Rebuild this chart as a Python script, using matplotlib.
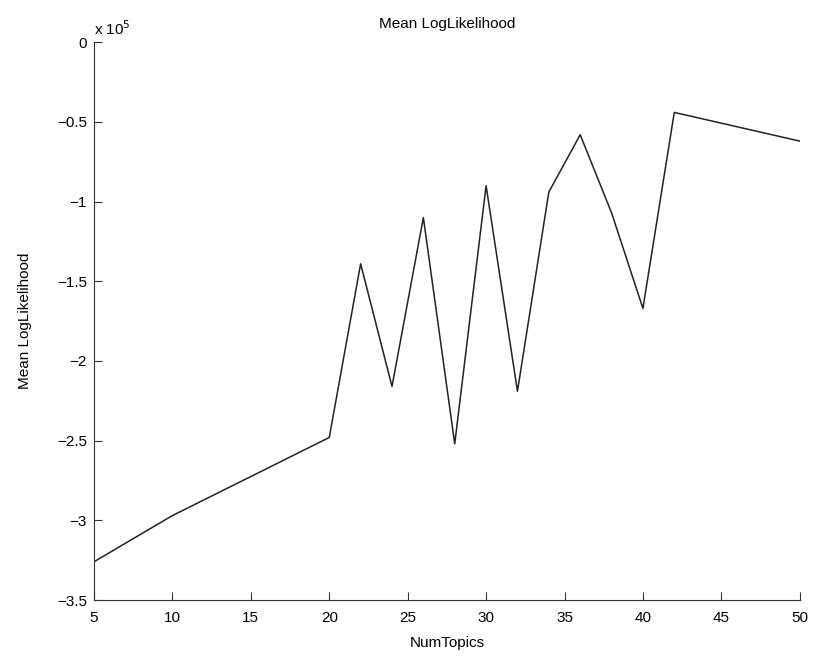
import matplotlib.pyplot as plt
from matplotlib.ticker import FuncFormatter

num_topics = [5, 10, 20, 22, 24, 26, 28, 30, 32, 34, 36, 38, 40, 42, 50]
mean_loglik = [-3.26e5, -2.97e5, -2.48e5, -1.39e5, -2.16e5, -1.10e5, -2.52e5,
               -0.90e5, -2.19e5, -0.94e5, -0.58e5, -1.07e5, -1.67e5, -0.44e5,
               -0.62e5]
x_ticks = [5, 10, 15, 20, 25, 30, 35, 40, 45, 50]
y_ticks = [-3.5e5, -3e5, -2.5e5, -2e5, -1.5e5, -1e5, -0.5e5, 0]
scale = 1e5

plt.rcParams['font.family'] = ['Liberation Sans', 'DejaVu Sans']
plt.rcParams['font.size'] = 11

fig = plt.figure(figsize=(8.14, 6.6), dpi=100)
ax = fig.add_axes([0.1155, 0.0909, 0.867, 0.845])
ax.plot(num_topics, mean_loglik, color='#222222', linewidth=1.1)

ax.set_xlim(5, 50)
ax.set_ylim(-3.5e5, 0)
ax.set_xticks(x_ticks)
ax.set_yticks(y_ticks)
ax.yaxis.set_major_formatter(
    FuncFormatter(lambda v, p: f'{v / scale:g}'.replace('-', '\u2212')))
ax.text(0.0, 1.008, r'x 10$^5$', transform=ax.transAxes, ha='left', va='bottom',
        fontsize=11)

ax.spines['top'].set_visible(False)
ax.spines['right'].set_visible(False)
for s in ['left', 'bottom']:
    ax.spines[s].set_color('#333333')
ax.tick_params(direction='in', length=6, width=0.8, color='#333333')
ax.tick_params(axis='x', pad=8)
ax.tick_params(axis='y', pad=5)

ax.set_title('Mean LogLikelihood', fontsize=11, pad=10)
ax.set_xlabel('NumTopics', labelpad=8)
ax.set_ylabel('Mean LogLikelihood', labelpad=18)

fig.savefig('out.png', dpi=100)
